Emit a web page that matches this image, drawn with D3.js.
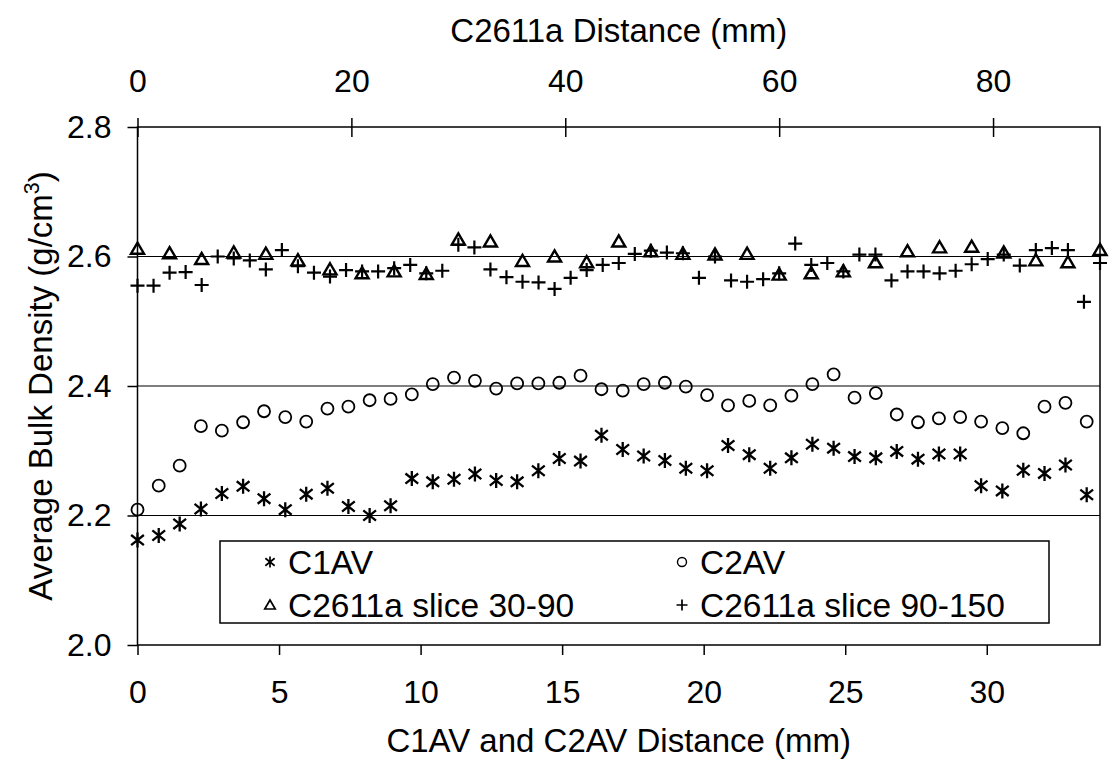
<!DOCTYPE html>
<html>
<head>
<meta charset="utf-8">
<script src="https://cdn.jsdelivr.net/npm/d3@7"></script>
<style>
  html, body { margin: 0; padding: 0; background: #fff; }
  svg { display: block; }
  text { font-family: "Liberation Sans", Arial, sans-serif; fill: #000; }
</style>
</head>
<body>
<svg id="chart" width="1113" height="765"></svg>
<script>
// ---------------- DATA ----------------
const c1c2Distance = [0, 0.75, 1.49, 2.24, 2.98, 3.73, 4.47, 5.22, 5.96, 6.71, 7.45, 8.2, 8.94, 9.69,
  10.43, 11.18, 11.92, 12.67, 13.41, 14.16, 14.9, 15.65, 16.39, 17.14, 17.88, 18.63, 19.37, 20.12,
  20.86, 21.61, 22.35, 23.1, 23.84, 24.59, 25.33, 26.08, 26.82, 27.57, 28.31, 29.06, 29.8, 30.55,
  31.29, 32.04, 32.78, 33.53];
const c1av = [2.162, 2.169, 2.187, 2.210, 2.234, 2.245, 2.226, 2.209, 2.233, 2.242, 2.214, 2.200,
  2.215, 2.257, 2.252, 2.256, 2.264, 2.254, 2.252, 2.269, 2.288, 2.284, 2.324, 2.302, 2.292, 2.285,
  2.273, 2.269, 2.308, 2.294, 2.273, 2.289, 2.310, 2.304, 2.291, 2.289, 2.299, 2.287, 2.295, 2.295,
  2.246, 2.238, 2.270, 2.265, 2.278, 2.232];
const c2av = [2.209, 2.246, 2.277, 2.338, 2.331, 2.344, 2.361, 2.352, 2.345, 2.365, 2.368, 2.378,
  2.380, 2.387, 2.403, 2.413, 2.408, 2.396, 2.404, 2.404, 2.405, 2.416, 2.395, 2.393, 2.403, 2.405,
  2.399, 2.386, 2.370, 2.377, 2.370, 2.385, 2.403, 2.418, 2.382, 2.389, 2.356, 2.344, 2.350, 2.352,
  2.345, 2.335, 2.327, 2.368, 2.374, 2.345];
const slice3090Distance = [0, 3, 6, 9, 12, 15, 18, 21, 24, 27, 30, 33, 36, 39, 42, 45, 48, 51, 54,
  57, 60, 63, 66, 69, 72, 75, 78, 81, 84, 87, 90];
const slice3090 = [2.612, 2.605, 2.596, 2.606, 2.604, 2.594, 2.580, 2.574, 2.577, 2.573, 2.626,
  2.623, 2.593, 2.600, 2.591, 2.623, 2.608, 2.604, 2.603, 2.604, 2.572, 2.574, 2.577, 2.591, 2.608,
  2.614, 2.615, 2.606, 2.594, 2.591, 2.610];
const slice90150Distance = [0, 1.5, 3, 4.5, 6, 7.5, 9, 10.5, 12, 13.5, 15, 16.5, 18, 19.5, 21, 22.5,
  24, 25.5, 27, 28.5, 30, 31.5, 33, 34.5, 36, 37.5, 39, 40.5, 42, 43.5, 45, 46.5, 48, 49.5, 51, 52.5,
  54, 55.5, 57, 58.5, 60, 61.5, 63, 64.5, 66, 67.5, 69, 70.5, 72, 73.5, 75, 76.5, 78, 79.5, 81, 82.5,
  84, 85.5, 87, 88.5, 90];
const slice90150 = [2.555, 2.555, 2.575, 2.576, 2.556, 2.600, 2.597, 2.594, 2.580, 2.610, 2.585,
  2.575, 2.569, 2.579, 2.577, 2.577, 2.582, 2.587, 2.574, 2.578, 2.618, 2.614, 2.580, 2.568, 2.561,
  2.560, 2.550, 2.567, 2.579, 2.587, 2.590, 2.604, 2.609, 2.606, 2.605, 2.567, 2.600, 2.563, 2.561,
  2.565, 2.574, 2.620, 2.587, 2.590, 2.577, 2.603, 2.603, 2.563, 2.577, 2.577, 2.574, 2.578, 2.588,
  2.596, 2.603, 2.586, 2.610, 2.613, 2.610, 2.530, 2.590];

const bottomTicks = [0, 5, 10, 15, 20, 25, 30];
const topTicks = [0, 20, 40, 60, 80];
const yTicks = [2.0, 2.2, 2.4, 2.6, 2.8];
const gridValues = [2.2, 2.4, 2.6];
const legendLabels = ["C1AV", "C2AV", "C2611a slice 30-90", "C2611a slice 90-150"];

// ---------------- LAYOUT ----------------
const L = 137.5, R = 1100, T = 127, B = 645;
const TICK_FONT = 32, TITLE_FONT = 33, LEGEND_FONT = 33.5;
const svg = d3.select("#chart");

const xBottom = d3.scaleLinear().domain([0, 34]).range([L, R]);
const xTop = d3.scaleLinear().domain([0, 90]).range([L, R]);
const y = d3.scaleLinear().domain([2.0, 2.8]).range([B, T]);

// gridlines
svg.append("g").selectAll("line").data(gridValues).join("line")
  .attr("x1", L).attr("x2", R).attr("y1", d => y(d)).attr("y2", d => y(d))
  .attr("stroke", "#000").attr("stroke-width", 1.2);

// plot border
svg.append("rect").attr("x", L).attr("y", T).attr("width", R - L).attr("height", B - T)
  .attr("fill", "none").attr("stroke", "#000").attr("stroke-width", 1.5);

function styleAxis(g) {
  g.select(".domain").remove();
  g.selectAll(".tick line").attr("stroke", "#000").attr("stroke-width", 1.5);
  g.selectAll(".tick text").attr("font-size", TICK_FONT).attr("font-family", '"Liberation Sans", Arial, sans-serif').attr("fill", "#000");
}

// bottom axis
svg.append("g").attr("transform", `translate(0,${B})`)
  .call(d3.axisBottom(xBottom).tickValues(bottomTicks).tickFormat(d3.format("d")).tickSize(10).tickPadding(25))
  .call(styleAxis);

// top axis (ticks cross the line)
const gTop = svg.append("g").attr("transform", `translate(0,${T})`)
  .call(d3.axisTop(xTop).tickValues(topTicks).tickFormat(d3.format("d")).tickSize(9).tickPadding(26))
  .call(styleAxis);
gTop.selectAll(".tick line").attr("y1", 10).attr("y2", -9);

// left axis
const gLeft = svg.append("g").attr("transform", `translate(${L},0)`)
  .call(d3.axisLeft(y).tickValues(yTicks).tickFormat(d3.format(".1f")).tickSize(10).tickPadding(16))
  .call(styleAxis);

// axis titles
svg.append("text").attr("x", (L + R) / 2).attr("y", 42).attr("text-anchor", "middle")
  .attr("font-size", TITLE_FONT).text("C2611a Distance (mm)");
svg.append("text").attr("x", (L + R) / 2).attr("y", 752).attr("text-anchor", "middle")
  .attr("font-size", TITLE_FONT).text("C1AV and C2AV Distance (mm)");
const yt = svg.append("text").attr("transform", `translate(52,${(T + B) / 2}) rotate(-90)`)
  .attr("text-anchor", "middle").attr("font-size", TITLE_FONT);
yt.append("tspan").text("Average Bulk Density (g/cm");
yt.append("tspan").attr("font-size", TITLE_FONT * 0.65).attr("dy", -13).text("3");
yt.append("tspan").attr("dy", 13).text(")");

// ---------------- MARKERS ----------------
function markerPath(type, s) {
  if (type === "star") {
    const d = s * 0.85;
    return `M${-d},${-d * 0.8}L${d},${d * 0.8}M${-d},${d * 0.8}L${d},${-d * 0.8}M0,${-s}L0,${s}`;
  }
  if (type === "tri") {
    return `M0,${-s}L${s * 1.05},${s * 0.8}L${-s * 1.05},${s * 0.8}Z`;
  }
  if (type === "plus") {
    return `M${-s},0L${s},0M0,${-s}L0,${s}`;
  }
  return "";
}

const plot = svg.append("g");

function drawSeries(xs, ys, xScale, type, size, sw) {
  const g = plot.append("g");
  const data = ys.map((v, i) => [xs[i], v]);
  if (type === "circle") {
    g.selectAll("circle").data(data).join("circle")
      .attr("cx", d => xScale(d[0])).attr("cy", d => y(d[1])).attr("r", size)
      .attr("fill", "none").attr("stroke", "#000").attr("stroke-width", sw);
  } else {
    g.selectAll("path").data(data).join("path")
      .attr("transform", d => `translate(${xScale(d[0])},${y(d[1])})`)
      .attr("d", markerPath(type, size))
      .attr("fill", "none").attr("stroke", "#000").attr("stroke-width", sw)
      .attr("stroke-linejoin", "miter");
  }
}

drawSeries(c1c2Distance, c1av, xBottom, "star", 7.5, 2.3);
drawSeries(c1c2Distance, c2av, xBottom, "circle", 6, 1.8);
drawSeries(slice3090Distance, slice3090, xTop, "tri", 6.2, 2.4);
drawSeries(slice90150Distance, slice90150, xTop, "plus", 7, 2.2);

// ---------------- LEGEND ----------------
const lg = svg.append("g");
lg.append("rect").attr("x", 220).attr("y", 541).attr("width", 829).attr("height", 82)
  .attr("fill", "#fff").attr("stroke", "#000").attr("stroke-width", 1.5);
const legendItems = [
  { label: legendLabels[0], type: "star", mx: 270, tx: 288, row: 0 },
  { label: legendLabels[1], type: "circle", mx: 682, tx: 700, row: 0 },
  { label: legendLabels[2], type: "tri", mx: 270, tx: 288, row: 1 },
  { label: legendLabels[3], type: "plus", mx: 682, tx: 700, row: 1 }
];
const rowY = [562, 605];
legendItems.forEach(it => {
  const cy = rowY[it.row];
  if (it.type === "circle") {
    lg.append("circle").attr("cx", it.mx).attr("cy", cy).attr("r", 4.5)
      .attr("fill", "none").attr("stroke", "#000").attr("stroke-width", 1.4);
  } else {
    lg.append("path").attr("transform", `translate(${it.mx},${cy})`)
      .attr("d", markerPath(it.type, it.type === "tri" ? 5 : 5.5))
      .attr("fill", "none").attr("stroke", "#000").attr("stroke-width", 1.7);
  }
  lg.append("text").attr("x", it.tx).attr("y", cy + 11.5).attr("font-size", LEGEND_FONT).text(it.label);
});
</script>
</body>
</html>
